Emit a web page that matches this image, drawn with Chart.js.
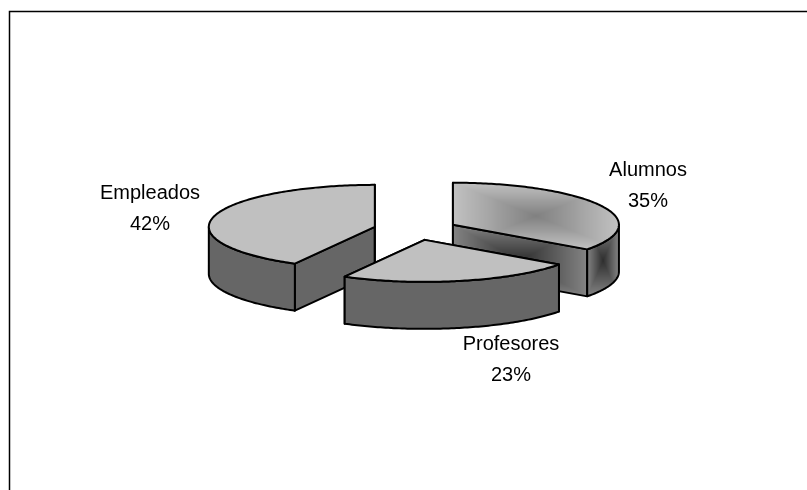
<!DOCTYPE html>
<html>
<head>
<meta charset="utf-8">
<title>Alumnos, Profesores, Empleados</title>
<script src="https://cdn.jsdelivr.net/npm/chart.js@4/dist/chart.umd.js"></script>
<style>
    html, body { margin: 0; padding: 0; background: #fff; overflow: hidden; }
    canvas { display: block; }
</style>
</head>
<body>
<canvas id="pie" width="807" height="490"></canvas>
<script>
const categories = ['Alumnos', 'Profesores', 'Empleados'];
const shares = [35, 23, 42];

// slice look: the first one carries the path gradient, the others are flat
const shaded = [true, false, false];

const RADIUS = 166;
const SQUASH = 42 / 166;
const DEPTH = 47;
const EXPLODE = 42;

const TOP_COLOR = '#c0c0c0';
const WALL_COLOR = '#666666';
const OUTLINE = '#000000';

// square gradient, darkest in the middle and light towards the four edges
function pathGradient(light, dark) {
    const size = 128;
    const off = document.createElement('canvas');
    off.width = off.height = size;
    const c = off.getContext('2d');
    const img = c.createImageData(size, size);
    for (let y = 0; y < size; y++) {
        for (let x = 0; x < size; x++) {
            const u = Math.abs((x + 0.5) / size * 2 - 1);
            const v = Math.abs((y + 0.5) / size * 2 - 1);
            const t = Math.max(u, v);
            const grey = Math.round(dark + (light - dark) * t);
            const i = (y * size + x) * 4;
            img.data[i] = img.data[i + 1] = img.data[i + 2] = grey;
            img.data[i + 3] = 255;
        }
    }
    c.putImageData(img, 0, 0);
    return c;
}

const canvas = document.getElementById('pie');
const ctx = canvas.getContext('2d');
const topShade = ctx.createPattern(pathGradient(0xc2, 0x80).canvas, 'no-repeat');
const wallShade = ctx.createPattern(pathGradient(0x84, 0x2e).canvas, 'no-repeat');

function bounds(pts) {
    const xs = pts.map(p => p.x);
    const ys = pts.map(p => p.y);
    const x = Math.min(...xs);
    const y = Math.min(...ys);
    return { x, y, w: Math.max(...xs) - x, h: Math.max(...ys) - y };
}

function fillOutlined(c, pts, style) {
    c.beginPath();
    pts.forEach((p, i) => i ? c.lineTo(p.x, p.y) : c.moveTo(p.x, p.y));
    c.closePath();
    if (style) {
        c.fillStyle = style;
        c.fill();
    }
    c.strokeStyle = OUTLINE;
    c.lineWidth = 2;
    c.lineJoin = 'round';
    c.stroke();
}

// pie seen from above: every arc gets walls, then its own top face on a flattened ctx
class Pie3dController extends Chart.PieController {
    static id = 'pie3d';

    draw() {
        const c = this._ctx;
        const arcs = this._cachedMeta.data.map((arc, index) => ({ arc, index }));
        const place = ({ arc }) => Math.sin((arc.startAngle + arc.endAngle) / 2);
        arcs.sort((a, b) => place(a) - place(b));
        arcs.forEach(item => this.drawSlice(c, item.arc, item.index));
    }

    drawSlice(c, arc, index) {
        const mid = (arc.startAngle + arc.endAngle) / 2;
        const dx = Math.cos(mid) * EXPLODE;
        const dy = Math.sin(mid) * EXPLODE * SQUASH;
        const cx = arc.x + dx;
        const cy = arc.y + dy;
        const R = arc.outerRadius;

        const edge = a => ({ x: cx + Math.cos(a) * R, y: cy + Math.sin(a) * R * SQUASH });
        const down = p => ({ x: p.x, y: p.y + DEPTH });
        const run = (from, to) => {
            const n = Math.ceil(Math.abs(to - from) * 60);
            const pts = [];
            for (let i = 0; i <= n; i++) pts.push(edge(from + (to - from) * i / n));
            return pts;
        };
        const centre = { x: cx, y: cy };
        const wallFill = pts => {
            if (!shaded[index]) return WALL_COLOR;
            const b = bounds(pts);
            wallShade.setTransform(new DOMMatrix().translate(b.x, b.y).scale(b.w / 128, b.h / 128));
            return wallShade;
        };

        // the two cut faces
        [arc.startAngle, arc.endAngle].forEach(a => {
            const p = edge(a);
            const face = [centre, p, down(p), down(centre)];
            fillOutlined(c, face, wallFill(face));
        });

        // rim, only the part turned to the viewer
        const from = Math.max(arc.startAngle, 0);
        const to = Math.min(arc.endAngle, Math.PI);
        if (to > from) {
            const rim = run(from, to);
            const face = rim.concat(rim.map(down).reverse());
            fillOutlined(c, face, wallFill(face));
        }

        // top face, filled by the arc element itself
        const outline = [centre].concat(run(arc.startAngle, arc.endAngle));
        if (shaded[index]) {
            const b = bounds(outline);
            topShade.setTransform(new DOMMatrix()
                .translate(b.x - dx, arc.y + (b.y - cy) / SQUASH)
                .scale(b.w / 128, b.h / SQUASH / 128));
        }
        c.save();
        c.translate(dx, cy);
        c.scale(1, SQUASH);
        c.translate(0, -arc.y);
        arc.draw(c);
        c.restore();
        fillOutlined(c, outline, null);
    }
}
Chart.register(Pie3dController);

const sliceLabels = {
    id: 'sliceLabels',
    afterDatasetsDraw(chart, args, opts) {
        const c = chart.ctx;
        c.save();
        c.font = '20px "Liberation Sans"';
        c.fillStyle = '#000';
        c.textAlign = 'center';
        c.textBaseline = 'middle';
        categories.forEach((name, i) => {
            const at = opts.anchors[i];
            c.fillText(name, at.x, at.y);
            c.fillText(shares[i] + '%', at.x, at.y + opts.lineGap);
        });
        c.restore();
    }
};

// only the top and left sides of the plot frame are on the canvas
const frame = {
    id: 'frame',
    beforeDraw(chart) {
        const c = chart.ctx;
        c.save();
        c.strokeStyle = '#000';
        c.lineWidth = 1.5;
        c.beginPath();
        c.moveTo(9.5, 490);
        c.lineTo(9.5, 11.5);
        c.lineTo(807, 11.5);
        c.stroke();
        c.restore();
    }
};

new Chart(canvas, {
    type: 'pie3d',
    data: {
        labels: categories,
        datasets: [{
            data: shares,
            backgroundColor: shaded.map(s => s ? topShade : TOP_COLOR),
            borderWidth: 0
        }]
    },
    options: {
        responsive: false,
        animation: false,
        radius: RADIUS,
        layout: { padding: { left: 24, bottom: 31 } },
        plugins: {
            legend: { display: false },
            tooltip: { enabled: false },
            sliceLabels: {
                lineGap: 31,
                anchors: [{ x: 648, y: 170 }, { x: 511, y: 344 }, { x: 150, y: 193 }]
            }
        }
    },
    plugins: [frame, sliceLabels]
});
</script>
</body>
</html>
